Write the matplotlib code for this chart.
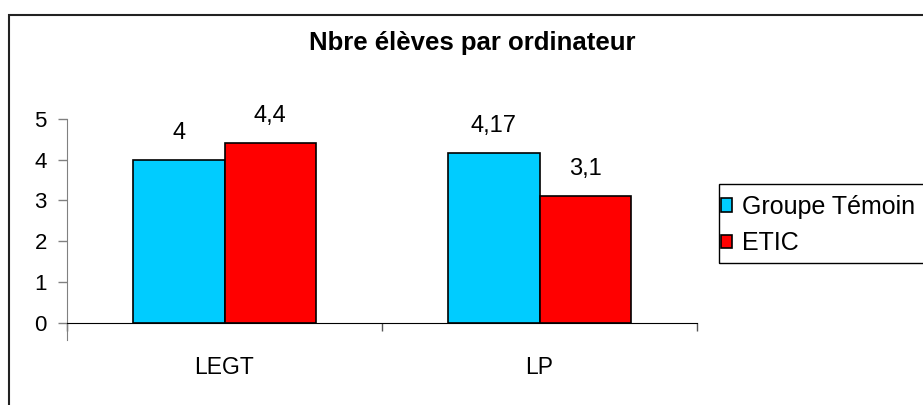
import matplotlib.pyplot as plt
from matplotlib.patches import Rectangle

# Chart data
categories = ["LEGT", "LP"]
series_names = ["Groupe Témoin", "ETIC"]
temoin = [4, 4.17]
etic = [4.4, 3.1]
temoin_labels = ["4", "4,17"]
etic_labels = ["4,4", "3,1"]
colors = ["#00CCFF", "#FF0000"]

plt.rcParams['font.family'] = ['Liberation Sans', 'DejaVu Sans']

fig = plt.figure(figsize=(9.23, 4.05), dpi=100)
ax = fig.add_axes([67 / 923, 82.3 / 405, 630 / 923, 203.7 / 405])

# outer border of the chart area (right and bottom run past the image)
fig.patches.append(Rectangle((8.5 / 923, -0.1), 1.2, (405 - 14.5) / 405 + 0.1,
                             transform=fig.transFigure, fill=False,
                             edgecolor="#222222", linewidth=1.5))

x = list(range(len(categories)))
w = 0.29
b1 = ax.bar([i - w / 2 for i in x], temoin, w, color=colors[0],
            edgecolor="black", linewidth=1.2, label=series_names[0])
b2 = ax.bar([i + w / 2 for i in x], etic, w, color=colors[1],
            edgecolor="black", linewidth=1.2, label=series_names[1])

for bars, labs in ((b1, temoin_labels), (b2, etic_labels)):
    for r, lab in zip(bars, labs):
        ax.annotate(lab, (r.get_x() + r.get_width() / 2, r.get_height()),
                    xytext=(0, 19.5), textcoords="offset points",
                    ha="center", va="center", fontsize=17)

ax.set_xlim(-0.5, len(categories) - 0.5)
ax.set_ylim(0, 5)
ax.set_yticks(range(0, 6))
ax.tick_params(axis="y", length=6.5, width=1, direction="out", pad=8,
               labelsize=16, color="#808080")

# boundary ticks on x, labels at category centers
ax.set_xticks([i - 0.5 for i in range(len(categories) + 1)])
ax.set_xticklabels([])
ax.tick_params(axis="x", which="major", length=6, width=1, direction="out",
               color="#555555")
ax.set_xticks(x, minor=True)
ax.set_xticklabels(categories, minor=True)
ax.tick_params(axis="x", which="minor", length=0, pad=24, labelsize=16.5)

ax.spines["top"].set_visible(False)
ax.spines["right"].set_visible(False)
ax.spines["left"].set_color("#808080")
ax.spines["left"].set_bounds(-0.42, 5)
ax.spines["bottom"].set_color("black")

fig.text(472 / 923, 1 - 43 / 405, "Nbre élèves par ordinateur",
         ha="center", va="center", fontsize=18.5, fontweight="bold")

# legend box drawn separately so its padding can match the original
fig.patches.append(Rectangle((719 / 923, 1 - 263 / 405), 0.3, 79 / 405,
                             transform=fig.transFigure, fill=False,
                             edgecolor="black", linewidth=1.0))
leg = fig.legend(handles=[b1, b2], loc="center left",
                 bbox_to_anchor=(721 / 923, 1 - 225 / 405),
                 frameon=False, fontsize=18,
                 handlelength=0.45, handleheight=0.45, handletextpad=0.4,
                 borderpad=0, labelspacing=0.5, borderaxespad=0)

fig.savefig("out.png", dpi=100)
